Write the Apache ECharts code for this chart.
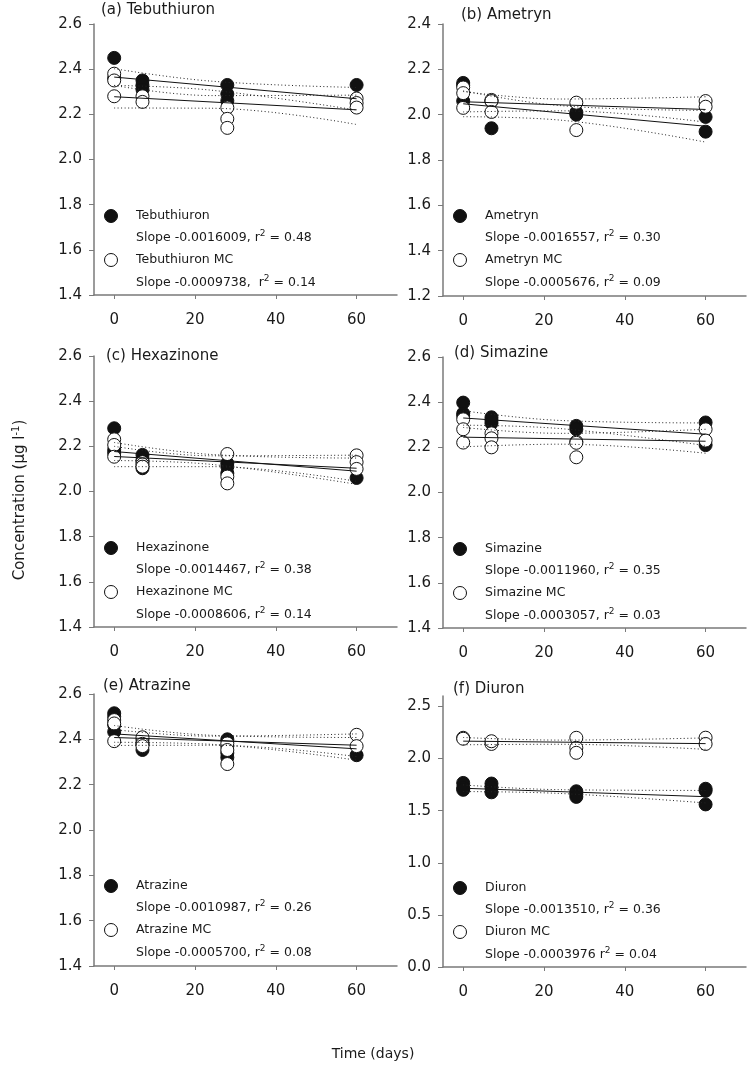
<!DOCTYPE html>
<html><head><meta charset="utf-8">
<script src="https://cdn.jsdelivr.net/npm/echarts@6/dist/echarts.min.js"></script>
<style>html,body{margin:0;padding:0;background:#fff}#c{width:747px;height:1071px}</style>
</head><body><div id="c"></div>
<script>
// ---------- DATA ----------
const DAYS = [0, 7, 28, 60];
const CI_DAYS = [0, 24, 60];
const REG_DAYS = [0, 60];
const X_TICKS = [0, 20, 40, 60];
const Y_TICKS_A = [1.4, 1.6, 1.8, 2.0, 2.2, 2.4, 2.6];
const Y_TICKS_B = [1.2, 1.4, 1.6, 1.8, 2.0, 2.2, 2.4];
const Y_TICKS_F = [0.0, 0.5, 1.0, 1.5, 2.0, 2.5];

// (a) Tebuthiuron
const tebuthiuron   = [[2.45, 2.36], [2.35, 2.33, 2.31], [2.33, 2.29, 2.26], [2.33]];
const tebuthiuronMC = [[2.38, 2.35, 2.28], [2.28, 2.255], [2.23, 2.18, 2.14], [2.27, 2.25, 2.23]];
const tebuthiuronReg = [2.365, 2.269];
const tebuthiuronMCReg = [2.278, 2.220];
const tebuthiuronCIup = [2.402, 2.347, 2.319];
const tebuthiuronCIlo = [2.328, 2.307, 2.219];
const tebuthiuronMCCIup = [2.328, 2.283, 2.285];
const tebuthiuronMCCIlo = [2.228, 2.227, 2.155];

// (b) Ametryn
const ametryn   = [[2.14, 2.13, 2.06], [1.94, 2.06], [2.00, 2.01], [1.99, 1.925]];
const ametrynMC = [[2.12, 2.095, 2.03], [2.065, 2.06, 2.012], [2.053, 1.932], [2.06, 2.035]];
const ametrynReg = [2.048, 1.949];
const ametrynMCReg = [2.057, 2.023];
const ametrynCIup = [2.105, 2.040, 2.019];
const ametrynCIlo = [1.991, 1.976, 1.879];
const ametrynMCCIup = [2.102, 2.069, 2.079];
const ametrynMCCIlo = [2.012, 2.017, 1.967];

// (c) Hexazinone
const hexazinone   = [[2.28, 2.185, 2.17], [2.162, 2.103, 2.14], [2.125, 2.081, 2.11], [2.06]];
const hexazinoneMC = [[2.231, 2.206, 2.154], [2.13, 2.12, 2.11], [2.166, 2.066, 2.036], [2.16, 2.13, 2.10]];
const hexazinoneReg = [2.177, 2.090];
const hexazinoneMCReg = [2.155, 2.103];
const hexazinoneCIup = [2.217, 2.164, 2.148];
const hexazinoneCIlo = [2.137, 2.120, 2.032];
const hexazinoneMCCIup = [2.200, 2.158, 2.161];
const hexazinoneMCCIlo = [2.110, 2.110, 2.045];

// (d) Simazine
const simazine   = [[2.398, 2.35, 2.34], [2.333, 2.32, 2.307], [2.295, 2.28], [2.31, 2.21]];
const simazineMC = [[2.324, 2.28, 2.221], [2.262, 2.24, 2.20], [2.225, 2.22, 2.156], [2.28, 2.23]];
const simazineReg = [2.330, 2.258];
const simazineMCReg = [2.245, 2.227];
const simazineCIup = [2.362, 2.319, 2.308];
const simazineCIlo = [2.298, 2.283, 2.208];
const simazineMCCIup = [2.288, 2.262, 2.280];
const simazineMCCIlo = [2.202, 2.214, 2.174];

// (e) Atrazine
const atrazine   = [[2.515, 2.50, 2.463, 2.433], [2.397, 2.38, 2.353], [2.40, 2.37, 2.34, 2.32], [2.33]];
const atrazineMC = [[2.485, 2.47, 2.392], [2.409, 2.38, 2.37], [2.382, 2.353, 2.291], [2.42, 2.37]];
const atrazineReg = [2.424, 2.358];
const atrazineMCReg = [2.408, 2.374];
const atrazineCIup = [2.461, 2.418, 2.408];
const atrazineCIlo = [2.387, 2.378, 2.308];
const atrazineMCCIup = [2.443, 2.414, 2.424];
const atrazineMCCIlo = [2.373, 2.374, 2.324];

// (f) Diuron
const diuron   = [[1.766, 1.718, 1.70], [1.76, 1.72, 1.676], [1.686, 1.66, 1.632], [1.71, 1.69, 1.56]];
const diuronMC = [[2.199, 2.19], [2.14, 2.166], [2.199, 2.103, 2.055], [2.20, 2.14]];
const diuronReg = [1.715, 1.634];
const diuronMCReg = [2.167, 2.143];
const diuronCIup = [1.747, 1.701, 1.694];
const diuronCIlo = [1.683, 1.665, 1.574];
const diuronMCCIup = [2.202, 2.177, 2.198];
const diuronMCCIlo = [2.132, 2.137, 2.088];

const PANELS = [
  {title:'(a) Tebuthiuron', name:'Tebuthiuron', fill:tebuthiuron, open:tebuthiuronMC, reg:tebuthiuronReg, regMC:tebuthiuronMCReg,
   ciUp:tebuthiuronCIup, ciLo:tebuthiuronCIlo, ciUpMC:tebuthiuronMCCIup, ciLoMC:tebuthiuronMCCIlo,
   s1:'Slope -0.0016009, r{sup|2} = 0.48', s2:'Slope -0.0009738,  r{sup|2} = 0.14', yTicks:Y_TICKS_A},
  {title:'(b) Ametryn', name:'Ametryn', fill:ametryn, open:ametrynMC, reg:ametrynReg, regMC:ametrynMCReg,
   ciUp:ametrynCIup, ciLo:ametrynCIlo, ciUpMC:ametrynMCCIup, ciLoMC:ametrynMCCIlo,
   s1:'Slope -0.0016557, r{sup|2} = 0.30', s2:'Slope -0.0005676, r{sup|2} = 0.09', yTicks:Y_TICKS_B},
  {title:'(c) Hexazinone', name:'Hexazinone', fill:hexazinone, open:hexazinoneMC, reg:hexazinoneReg, regMC:hexazinoneMCReg,
   ciUp:hexazinoneCIup, ciLo:hexazinoneCIlo, ciUpMC:hexazinoneMCCIup, ciLoMC:hexazinoneMCCIlo,
   s1:'Slope -0.0014467, r{sup|2} = 0.38', s2:'Slope -0.0008606, r{sup|2} = 0.14', yTicks:Y_TICKS_A},
  {title:'(d) Simazine', name:'Simazine', fill:simazine, open:simazineMC, reg:simazineReg, regMC:simazineMCReg,
   ciUp:simazineCIup, ciLo:simazineCIlo, ciUpMC:simazineMCCIup, ciLoMC:simazineMCCIlo,
   s1:'Slope -0.0011960, r{sup|2} = 0.35', s2:'Slope -0.0003057, r{sup|2} = 0.03', yTicks:Y_TICKS_A},
  {title:'(e) Atrazine', name:'Atrazine', fill:atrazine, open:atrazineMC, reg:atrazineReg, regMC:atrazineMCReg,
   ciUp:atrazineCIup, ciLo:atrazineCIlo, ciUpMC:atrazineMCCIup, ciLoMC:atrazineMCCIlo,
   s1:'Slope -0.0010987, r{sup|2} = 0.26', s2:'Slope -0.0005700, r{sup|2} = 0.08', yTicks:Y_TICKS_A},
  {title:'(f) Diuron', name:'Diuron', fill:diuron, open:diuronMC, reg:diuronReg, regMC:diuronMCReg,
   ciUp:diuronCIup, ciLo:diuronCIlo, ciUpMC:diuronMCCIup, ciLoMC:diuronMCCIlo,
   s1:'Slope -0.0013510, r{sup|2} = 0.36', s2:'Slope -0.0003976 r{sup|2} = 0.04', yTicks:Y_TICKS_F, yMax:2.6}
];

// ---------- LAYOUT ----------
const LAYOUT = [
  {left:94,  top:24,  width:303, height:271, tx:101, ty:10},
  {left:443, top:24,  width:303, height:272, tx:461, ty:15},
  {left:94,  top:356, width:303, height:271, tx:106, ty:356},
  {left:443, top:357, width:303, height:271, tx:454, ty:353},
  {left:94,  top:694, width:303, height:272, tx:103, ty:686},
  {left:443, top:696, width:303, height:271, tx:453, ty:689}
];
const FONT = 'DejaVu Sans';
const TXT = '#1a1a1a';
const AXIS = '#7a7a7a';
const INK = '#111';

const grids = [], xAxes = [], yAxes = [], series = [], graphics = [];
const pts = (arr) => arr.flatMap((vals, k) => vals.map(v => [DAYS[k], v]));
const curve = (days, vals) => vals.map((v, k) => [days[k], v]);

PANELS.forEach((p, i) => {
  const L = LAYOUT[i];
  grids.push({left:L.left, top:L.top, width:L.width, height:L.height});
  xAxes.push({
    type:'value', gridIndex:i, min:-5, max:70,
    axisLine:{show:true, onZero:false, lineStyle:{color:AXIS, width:1.5}},
    axisTick:{show:true, length:4, customValues:X_TICKS, lineStyle:{color:AXIS, width:1}},
    axisLabel:{customValues:X_TICKS, fontFamily:FONT, fontSize:15, color:TXT, margin:18},
    splitLine:{show:false}
  });
  const yMin = p.yTicks[0];
  const yMax = p.yMax !== undefined ? p.yMax : p.yTicks[p.yTicks.length - 1];
  yAxes.push({
    type:'value', gridIndex:i, min:yMin, max:yMax,
    axisLine:{show:true, onZero:false, lineStyle:{color:AXIS, width:1.5}},
    axisTick:{show:true, length:5, customValues:p.yTicks, lineStyle:{color:AXIS, width:1}},
    axisLabel:{customValues:p.yTicks, formatter:(v) => Number(v).toFixed(1), fontFamily:FONT, fontSize:15, color:TXT, margin:12},
    splitLine:{show:false}
  });
  series.push({type:'scatter', xAxisIndex:i, yAxisIndex:i, data:pts(p.fill), symbol:'circle', symbolSize:13,
    itemStyle:{color:INK, borderColor:INK, borderWidth:1, opacity:1}, emphasis:{disabled:true}, silent:true, z:2});
  series.push({type:'scatter', xAxisIndex:i, yAxisIndex:i, data:pts(p.open), symbol:'circle', symbolSize:13,
    itemStyle:{color:'#fff', borderColor:INK, borderWidth:1, opacity:1}, emphasis:{disabled:true}, silent:true, z:3});
  [p.reg, p.regMC].forEach(vals => {
    series.push({type:'line', xAxisIndex:i, yAxisIndex:i, data:curve(REG_DAYS, vals), symbol:'none',
      lineStyle:{color:INK, width:1}, silent:true, z:4});
  });
  [p.ciUp, p.ciLo, p.ciUpMC, p.ciLoMC].forEach(vals => {
    series.push({type:'line', xAxisIndex:i, yAxisIndex:i, data:curve(CI_DAYS, vals), symbol:'none', smooth:0.4,
      lineStyle:{color:'#222', width:1, type:[1, 2.5]}, silent:true, z:4});
  });
  // title
  graphics.push({type:'text', x:L.tx, y:L.ty, silent:true,
    style:{text:p.title, font:'15px "DejaVu Sans"', fill:TXT, align:'left', verticalAlign:'middle'}});
  // legend
  const mx = L.left + 17, tx = L.left + 42;
  graphics.push({type:'circle', silent:true, shape:{cx:mx, cy:L.top + 192, r:6.5}, style:{fill:INK, stroke:INK, lineWidth:1}});
  graphics.push({type:'circle', silent:true, shape:{cx:mx, cy:L.top + 236, r:6.5}, style:{fill:'#fff', stroke:INK, lineWidth:1}});
  const rich = {sup:{fontSize:9, fontFamily:FONT, fill:TXT, verticalAlign:'top', lineHeight:9}};
  const lines = [[p.name, 192], [p.s1, 214], [p.name + ' MC', 236], [p.s2, 259]];
  lines.forEach(([t, dy]) => {
    graphics.push({type:'text', x:tx, y:L.top + dy, silent:true,
      style:{text:t, font:'12.5px "DejaVu Sans"', fill:TXT, align:'left', verticalAlign:'middle', lineHeight:17, rich:rich}});
  });
});

graphics.push({type:'text', x:20, y:500, rotation:Math.PI / 2, silent:true,
  style:{text:'Concentration (µg l{sup|-1})', font:'15px "DejaVu Sans"', fill:TXT, align:'center', verticalAlign:'middle', lineHeight:18,
    rich:{sup:{fontSize:10, fontFamily:FONT, fill:TXT, verticalAlign:'top', lineHeight:10}}}});
graphics.push({type:'text', x:373, y:1054, silent:true,
  style:{text:'Time (days)', font:'14px "DejaVu Sans"', fill:TXT, align:'center', verticalAlign:'middle'}});

const chart = echarts.init(document.getElementById('c'), null, {renderer:'canvas'});
chart.setOption({
  animation:false,
  backgroundColor:'#fff',
  grid:grids, xAxis:xAxes, yAxis:yAxes, series:series, graphic:graphics
});
</script></body></html>
